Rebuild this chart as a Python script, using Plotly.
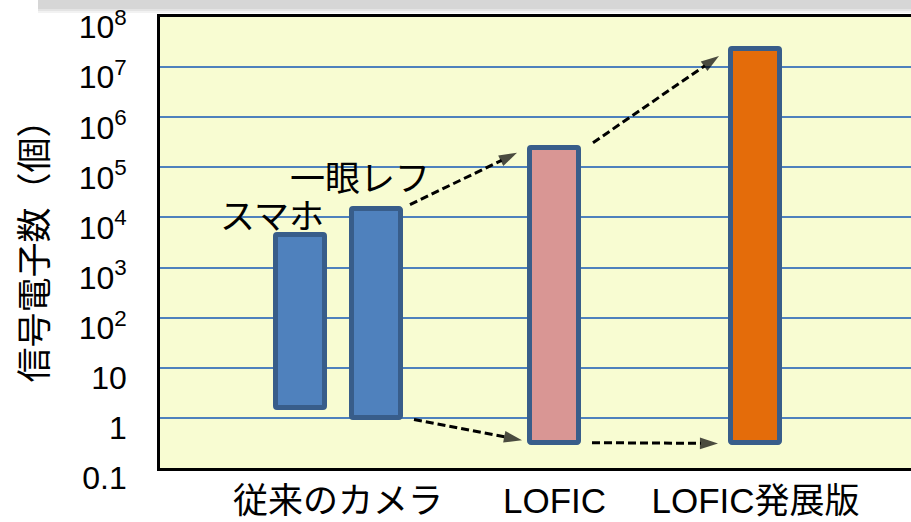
import math
import plotly.graph_objects as go

# ---------------- data ----------------
groups = ["従来のカメラ", "LOFIC", "LOFIC発展版"]
bar_names = ["スマホ", "一眼レフ", "LOFIC", "LOFIC発展版"]
bar_group = [0, 0, 1, 2]
low = [1.6, 1.0, 0.32, 0.31]
high = [4500, 15000, 240000, 23500000]
bar_labels = ["スマホ", "一眼レフ", "", ""]
y_tickvals = [0.1, 1, 10, 1e2, 1e3, 1e4, 1e5, 1e6, 1e7, 1e8]
y_ticktext = ["0.1", "1", "10", "10<sup>2</sup>", "10<sup>3</sup>", "10<sup>4</sup>",
              "10<sup>5</sup>", "10<sup>6</sup>", "10<sup>7</sup>", "10<sup>8</sup>"]
y_title = "信号電子数（個）"

# ---------------- layout / style ----------------
bar_x = [1.40, 2.16, 3.945, 5.955]
bar_w = 0.49
bar_fill = ["#4F81BD", "#4F81BD", "#D99694", "#E46C0A"]
bar_edge = "#385D8A"
grid_col = "#4F81BD"
bg_col = "#F8FCD2"
FONT = "Liberation Sans, Arial, Noto Sans CJK JP, sans-serif"
JFONT = "Noto Sans CJK JP, sans-serif"
TICK_PX = 32          # visible size of the y tick labels
TICK_ANCHOR = 61      # nominal size used only to push labels a little below their gridlines

# arrows: (from bar, edge, to bar, edge, start dx, end dx, start factor, end factor)
arrows = [
    (1, "high", 2, "high", 0.34, -0.375, 1.20, 0.81),
    (2, "high", 3, "high", 0.385, -0.365, 1.29, 0.71),
    (1, "low", 2, "low", 0.38, -0.325, 0.93, 1.12),
    (2, "low", 3, "low", 0.375, -0.375, 1.00, 1.00),
]

fig = go.Figure()

fig.add_trace(go.Bar(
    x=bar_x,
    y=[h - l for h, l in zip(high, low)],
    base=low,
    width=bar_w,
    marker=dict(color=bar_fill, line=dict(color=bar_edge, width=5), cornerradius=2),
    showlegend=False,
    hoverinfo="skip",
))

for (i, ei, j, ej, dx0, dx1, f0, f1) in arrows:
    y0 = (high if ei == "high" else low)[i] * f0
    y1 = (high if ej == "high" else low)[j] * f1
    fig.add_trace(go.Scatter(
        x=[bar_x[i] + dx0, bar_x[j] + dx1],
        y=[y0, y1],
        mode="lines+markers",
        line=dict(color="black", width=3, dash="8px,4px"),
        marker=dict(symbol="arrow", size=[0, 19], angleref="previous",
                    color="black", line=dict(width=0)),
        showlegend=False,
        hoverinfo="skip",
    ))

annotations = []
label_shift = {0: -28, 1: -16}
for k, txt in enumerate(bar_labels):
    if not txt:
        continue
    annotations.append(dict(
        x=bar_x[k], y=math.log10(high[k]), xref="x", yref="y",
        text=txt, showarrow=False, xanchor="center", yanchor="bottom",
        xshift=label_shift.get(k, 0), yshift=-6 if k == 0 else 6,
        font=dict(family=JFONT, size=35, color="black"),
    ))

group_x = []
for g in range(len(groups)):
    xs = [bar_x[k] for k in range(len(bar_x)) if bar_group[k] == g]
    group_x.append(sum(xs) / len(xs))

shapes = []
# grey shadow band at the top of the picture
for (y0p, y1p, col) in [(0, 9, "#d6d6d6"), (9, 11, "#e4e4e4"), (11, 13, "#f2f2f2")]:
    shapes.append(dict(type="rect", xref="paper", yref="paper",
                       x0=(38 - 160) / 751, x1=1.0,
                       y0=1 + (17 - y1p) / 451, y1=1 + (17 - y0p) / 451,
                       fillcolor=col, line=dict(width=0), layer="below"))

fig.update_layout(
    width=911, height=522,
    margin=dict(l=160, r=0, t=17, b=54),
    paper_bgcolor="white",
    plot_bgcolor=bg_col,
    font=dict(family=FONT, color="black"),
    annotations=annotations,
    shapes=shapes,
    bargap=0,
)

fig.update_xaxes(
    range=[0, 7.51],
    tickvals=group_x, ticktext=groups,
    tickfont=dict(family=FONT, size=35, color="black"),
    showgrid=False, zeroline=False,
    showline=True, linecolor="black", linewidth=3, mirror=True,
    ticks="", ticklabelstandoff=0, automargin=False,
)
fig.update_yaxes(
    type="log", range=[-1, 8],
    tickvals=y_tickvals,
    ticktext=[f"<span style='font-size:{TICK_PX}px'>{t}</span>" for t in y_ticktext],
    tickfont=dict(family=FONT, size=TICK_ANCHOR, color="black"),
    showgrid=True, gridcolor=grid_col, gridwidth=2,
    zeroline=False,
    showline=True, linecolor="black", linewidth=3, mirror=False,
    ticks="", ticklabelstandoff=18, ticklabeloverflow="allow",
    automargin=False,
    title=dict(text=y_title, font=dict(family=JFONT, size=35, color="black"), standoff=21),
)

fig.write_html(
    "out.html",
    config={"responsive": False, "displayModeBar": False},
    post_script="document.body.style.margin='0px';document.body.style.overflow='hidden';",
)
